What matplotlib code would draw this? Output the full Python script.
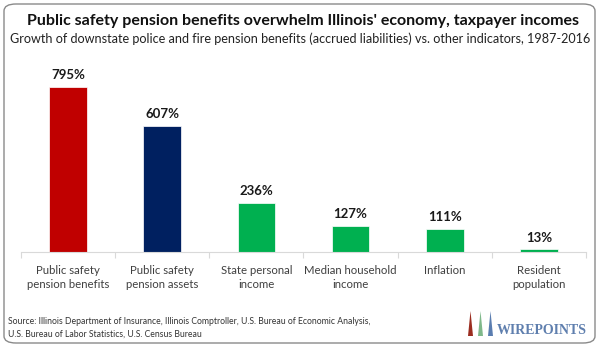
import matplotlib.pyplot as plt
from matplotlib.patches import FancyBboxPatch, Polygon

categories = ["Public safety\npension benefits", "Public safety\npension assets",
              "State personal\nincome", "Median household\nincome",
              "Inflation", "Resident\npopulation"]
growth = [795, 607, 236, 127, 111, 13]
colors = ["#C00000", "#002060", "#00B050", "#00B050", "#00B050", "#00B050"]

title = "Public safety pension benefits overwhelm Illinois' economy, taxpayer incomes"
subtitle = "Growth of downstate police and fire pension benefits (accrued liabilities) vs. other indicators, 1987-2016"
source = ("Source: Illinois Department of Insurance, Illinois Comptroller, U.S. Bureau of Economic Analysis,\n"
          "U.S. Bureau of Labor Statistics, U.S. Census Bureau")

W, H = 600, 347
fig = plt.figure(figsize=(6, 3.47), dpi=100)
plt.rcParams['font.family'] = ['Lato', 'DejaVu Sans']

# rounded frame
frame = FancyBboxPatch((4 / W, 4 / H), 591 / W, 339 / H,
                       boxstyle="round,pad=0,rounding_size=0.02",
                       transform=fig.transFigure, facecolor="none",
                       edgecolor="#8a8a8a", linewidth=1.0, zorder=0)
fig.patches.append(frame)

ax = fig.add_axes([21 / W, (H - 252) / H, 565 / W, 192 / H])
ax.patch.set_alpha(0)
x = list(range(len(growth)))
ax.bar(x, growth, width=0.40, color=colors, edgecolor="white", linewidth=0.5, zorder=2)
ax.set_xlim(-0.5, len(growth) - 0.5)
ax.set_ylim(0, 925)

for i, v in enumerate(growth):
    ax.annotate(f"{v}%", (i, v), xytext=(0, 4), textcoords="offset points",
                ha="center", va="bottom", fontsize=9.5, fontweight="bold", color="#1a1a1a")

for s in ["top", "right", "left"]:
    ax.spines[s].set_visible(False)
ax.spines["bottom"].set_color("#d9d9d9")
ax.spines["bottom"].set_linewidth(0.8)
ax.set_yticks([])
ax.set_xticks([i - 0.5 for i in range(len(growth) + 1)])
ax.set_xticklabels([])
ax.tick_params(axis="x", length=4, color="#d9d9d9", width=0.8)
ax.set_xticks(x, minor=True)
ax.set_xticklabels(categories, minor=True, fontsize=8.2, color="#404040", linespacing=1.4)
ax.tick_params(axis="x", which="minor", length=0, pad=9)

fig.text(0.505, 1 - 21 / H, title, ha="center", va="center", fontsize=11.5,
         fontweight="bold", color="#111111")
fig.text(0.5, 1 - 39 / H, subtitle, ha="center", va="center", fontsize=9.1, color="#222222")
fig.text(8 / W, 1 - 328 / H, source, ha="left", va="center", fontsize=6.2,
         color="#333333", linespacing=1.5)

# wirepoints logo
for x0, c in [(468, "#9b2d20"), (478, "#7fb88a"), (488, "#5a7db0")]:
    poly = Polygon([(x0 / W, 1 - 336 / H), ((x0 + 5) / W, 1 - 336 / H),
                    ((x0 + 2.5) / W, 1 - 311 / H)], closed=True,
                   transform=fig.transFigure, facecolor=c, edgecolor="none")
    fig.patches.append(poly)
fig.text(497 / W, 1 - 330 / H, "WIREPOINTS", ha="left", va="center", fontsize=10,
         fontweight="bold", family="Liberation Serif", color="#5f7fae")

fig.savefig("out.png", dpi=100)
